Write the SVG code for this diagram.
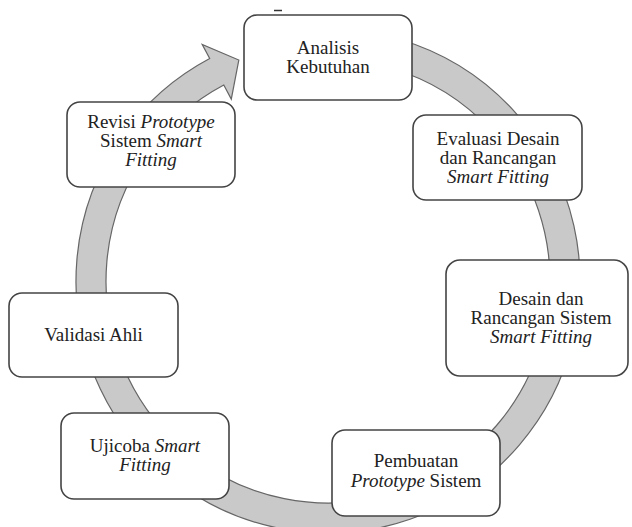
<svg xmlns="http://www.w3.org/2000/svg" width="632" height="527" viewBox="0 0 632 527">
<style>
.box{fill:#fff;stroke:#444;stroke-width:1.6}
.t{font-size:19px;fill:#222;text-anchor:middle}
.i{font-style:italic}
.ring{fill:#c9c9c9;stroke:#666;stroke-width:1.2;stroke-linejoin:miter}
</style>
<rect width="632" height="527" fill="#fff"/>
<g id="connectors">
<path class="ring" d="M 284.24 32.83 A 252 252 0 1 1 209.69 58.50 L 202.18 44.37 L 238.81 60.00 L 231.29 99.11 L 223.78 84.99 A 222 222 0 1 0 289.45 62.37 Z"/>
</g>
<line x1="274" y1="10.5" x2="282" y2="10.5" stroke="#333" stroke-width="1.5"/>
<g id="analisis">
<rect class="box" x="244" y="15" width="168" height="85" rx="13"/>
<text class="t" x="328" y="54" font-family="Liberation Serif" style="font-family:'Liberation Serif',serif">Analisis</text>
<text class="t" x="328" y="73" font-family="Liberation Serif" style="font-family:'Liberation Serif',serif">Kebutuhan</text>
</g>
<g id="evaluasi">
<rect class="box" x="413" y="115" width="169" height="85" rx="13"/>
<text class="t" x="498" y="144.5" font-family="Liberation Serif" style="font-family:'Liberation Serif',serif">Evaluasi Desain</text>
<text class="t" x="498" y="163.5" font-family="Liberation Serif" style="font-family:'Liberation Serif',serif">dan Rancangan</text>
<text class="t i" x="498" y="182.5" font-family="Liberation Serif" style="font-family:'Liberation Serif',serif">Smart Fitting</text>
</g>
<g id="desain">
<rect class="box" x="446" y="260" width="182" height="116" rx="14"/>
<text class="t" x="541" y="305" font-family="Liberation Serif" style="font-family:'Liberation Serif',serif">Desain dan</text>
<text class="t" x="541" y="324" font-family="Liberation Serif" style="font-family:'Liberation Serif',serif">Rancangan Sistem</text>
<text class="t i" x="541" y="343" font-family="Liberation Serif" style="font-family:'Liberation Serif',serif">Smart Fitting</text>
</g>
<g id="pembuatan">
<rect class="box" x="332" y="430" width="168" height="86" rx="13"/>
<text class="t" x="416" y="467" font-family="Liberation Serif" style="font-family:'Liberation Serif',serif">Pembuatan</text>
<text class="t" x="416" y="487" font-family="Liberation Serif" style="font-family:'Liberation Serif',serif"><tspan class="i">Prototype</tspan> Sistem</text>
</g>
<g id="ujicoba">
<rect class="box" x="61" y="413" width="168" height="86" rx="13"/>
<text class="t" x="145" y="452" font-family="Liberation Serif" style="font-family:'Liberation Serif',serif">Ujicoba <tspan class="i">Smart</tspan></text>
<text class="t i" x="145" y="471" font-family="Liberation Serif" style="font-family:'Liberation Serif',serif">Fitting</text>
</g>
<g id="validasi">
<rect class="box" x="9" y="293" width="169" height="84" rx="13"/>
<text class="t" x="93.5" y="341" font-family="Liberation Serif" style="font-family:'Liberation Serif',serif">Validasi Ahli</text>
</g>
<g id="revisi">
<rect class="box" x="67" y="102" width="168" height="85" rx="13"/>
<text class="t" x="151" y="128" font-family="Liberation Serif" style="font-family:'Liberation Serif',serif">Revisi <tspan class="i">Prototype</tspan></text>
<text class="t" x="151" y="147" font-family="Liberation Serif" style="font-family:'Liberation Serif',serif">Sistem <tspan class="i">Smart</tspan></text>
<text class="t i" x="151" y="166" font-family="Liberation Serif" style="font-family:'Liberation Serif',serif">Fitting</text>
</g>
</svg>
